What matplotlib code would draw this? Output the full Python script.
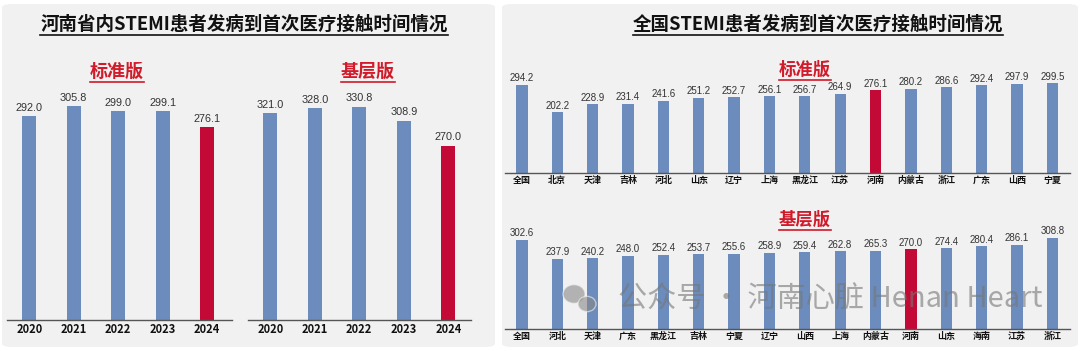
import matplotlib.pyplot as plt
import numpy as np
from matplotlib.patches import FancyBboxPatch, Ellipse

plt.rcParams['font.family'] = ['Noto Sans CJK SC', 'DejaVu Sans']

# 河南省内
years = ['2020', '2021', '2022', '2023', '2024']
henan_std = [292.0, 305.8, 299.0, 299.1, 276.1]
henan_base = [321.0, 328.0, 330.8, 308.9, 270.0]

# 全国 标准版
std_regions = ['全国', '北京', '天津', '吉林', '河北', '山东', '辽宁', '上海',
               '黑龙江', '江苏', '河南', '内蒙古', '浙江', '广东', '山西', '宁夏']
std_values = [294.2, 202.2, 228.9, 231.4, 241.6, 251.2, 252.7, 256.1,
              256.7, 264.9, 276.1, 280.2, 286.6, 292.4, 297.9, 299.5]

# 全国 基层版
base_regions = ['全国', '河北', '天津', '广东', '黑龙江', '吉林', '宁夏', '辽宁',
                '山西', '上海', '内蒙古', '河南', '山东', '海南', '江苏', '浙江']
base_values = [302.6, 237.9, 240.2, 248.0, 252.4, 253.7, 255.6, 258.9,
               259.4, 262.8, 265.3, 270.0, 274.4, 280.4, 286.1, 308.8]

BLUE = '#6b8cbd'
RED = '#c30a36'
TITLE_RED = '#d11a2a'
W, H = 1080, 351

fig = plt.figure(figsize=(10.8, 3.51), dpi=100)
fig.patch.set_facecolor('white')


def px_axes(x0, y_top, x1, y_base):
    # pixel box (y measured from top) -> figure axes
    ax = fig.add_axes([x0 / W, (H - y_base) / H, (x1 - x0) / W, (y_base - y_top) / H])
    ax.set_zorder(2)
    return ax


def panel(x0, x1):
    p = FancyBboxPatch((x0 / W, 4 / H), (x1 - x0) / W, (H - 8) / H,
                       boxstyle='round,pad=0,rounding_size=0.01',
                       transform=fig.transFigure, facecolor='#f1f1f1',
                       edgecolor='none', zorder=-5)
    fig.patches.append(p)


def title(x, y, s, size, color='#111111'):
    t = fig.text(x / W, 1 - y / H, s, ha='center', va='center', fontsize=size,
                 fontweight='bold', color=color)
    fig.canvas.draw()
    bb = t.get_window_extent()
    fig.add_artist(plt.Line2D([bb.x0 / W, bb.x1 / W],
                              [bb.y0 / fig.bbox.height - 0.004] * 2,
                              color=color, lw=1.2, transform=fig.transFigure))


def bars(ax, labels, values, hl, ymax, width, vsize, lsize, xlim):
    x = np.arange(len(values))
    colors = [RED if lab == hl else BLUE for lab in labels]
    ax.bar(x, values, width=width, color=colors, zorder=2)
    for xi, v in zip(x, values):
        ax.text(xi, v + ymax * 0.015, f'{v:.1f}', ha='center', va='bottom',
                fontsize=vsize, color='#333333', family=['Liberation Sans', 'DejaVu Sans'])
    ax.set_xlim(*xlim)
    ax.set_ylim(0, ymax)
    ax.set_xticks(x)
    ax.set_xticklabels(labels, fontsize=lsize, fontweight='bold', color='#111111')
    ax.tick_params(axis='x', length=0, pad=2)
    ax.set_yticks([])
    ax.set_facecolor('none')
    for s in ['top', 'right', 'left']:
        ax.spines[s].set_visible(False)
    ax.spines['bottom'].set_color('#555555')
    ax.spines['bottom'].set_linewidth(1.0)


panel(2, 495)
panel(502, 1078)

title(244, 24, '河南省内STEMI患者发病到首次医疗接触时间情况', 13.3)
title(818, 24, '全国STEMI患者发病到首次医疗接触时间情况', 13.3)
title(117, 71, '标准版', 13, TITLE_RED)
title(368, 71, '基层版', 13, TITLE_RED)
title(805, 70, '标准版', 12.5, TITLE_RED)
title(805, 220, '基层版', 12.5, TITLE_RED)

ax1 = px_axes(7, 95, 232, 320)
bars(ax1, years, henan_std, '2024', 225 / 0.699, 0.32, 7.8, 8, (-0.5, 4.56))
ax2 = px_axes(248, 95, 471, 320)
bars(ax2, years, henan_base, '2024', 225 / 0.645, 0.32, 7.8, 8, (-0.5, 4.51))

ax3 = px_axes(505, 75, 1070, 173)
bars(ax3, std_regions, std_values, '河南', 98 / 0.300, 0.32, 7, 6.5, (-0.48, 15.5))
ax4 = px_axes(505, 231, 1070, 329)
bars(ax4, base_regions, base_values, '河南', 98 / 0.295, 0.32, 7, 6.5, (-0.48, 15.5))

# watermark
wm = fig.text(830 / W, 1 - 300 / H, '公众号 · 河南心脏 Henan Heart', ha='center', va='center',
              fontsize=21, color='#777777', alpha=0.6, zorder=5)
for cx, cy, r in [(574, 294, 11), (587, 304, 9)]:
    fig.add_artist(Ellipse((cx / W, 1 - cy / H), 2 * r / W, 1.7 * r / H,
                           transform=fig.transFigure, facecolor='#888888',
                           edgecolor='#f1f1f1', lw=1, alpha=0.6, zorder=5))

fig.savefig('out.png', dpi=100, facecolor='white')
